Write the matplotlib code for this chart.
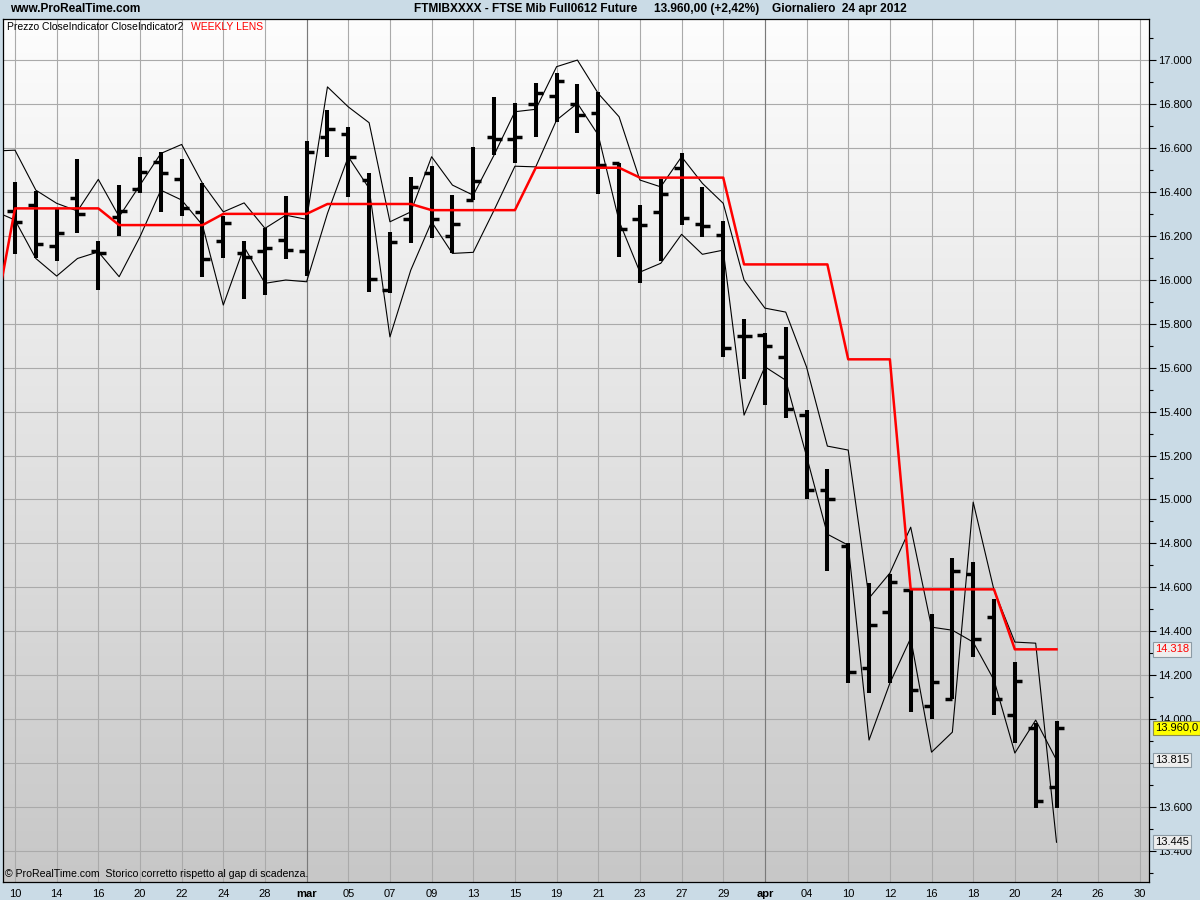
import matplotlib.pyplot as plt
import numpy as np
from matplotlib.colors import LinearSegmentedColormap

plt.rcParams['font.family'] = ['Liberation Sans', 'DejaVu Sans']

# FTSE Mib future, giornaliero 10 feb - 24 apr 2012 (barre 0..50), asse fino al 30 apr
x_labels = ['10', '14', '16', '20', '22', '24', '28', 'mar', '05', '07', '09', '13', '15', '19',
            '21', '23', '27', '29', 'apr', '04', '10', '12', '16', '18', '20', '24', '26', '30']

bar_open = [16313, 16340, 16156, 16370, 16131, 16287, 16411, 16534, 16461, 16308,
            16177, 16120, 16131, 16181, 16131, 16651, 16663, 16454, 15953, 16275,
            16484, 16200, 16363, 16651, 16640, 16798, 16836, 16798, 16757, 16533,
            16275, 16309, 16507, 16253, 16203, 15744, 15748, 15647, 15384, 15042,
            14788, 14231, 14490, 14587, 14059, 14094, 14663, 14465, 14018, 13958,
            13692]
bar_high = [16446, 16404, 16320, 16548, 16176, 16431, 16560, 16580, 16548, 16439,
            16290, 16176, 16234, 16381, 16631, 16772, 16694, 16487, 16216, 16466,
            16517, 16385, 16603, 16830, 16803, 16894, 16939, 16889, 16856, 16533,
            16340, 16457, 16578, 16421, 16267, 15820, 15759, 15783, 15407, 15137,
            14800, 14618, 14663, 14587, 14481, 14732, 14714, 14546, 14261, 13981,
            13993]
bar_low = [16117, 16097, 16086, 16211, 15953, 16200, 16393, 16309, 16290, 16011,
           16097, 15911, 15930, 16093, 16017, 16560, 16378, 15945, 15938, 16168,
           16191, 16120, 16363, 16568, 16530, 16651, 16719, 16669, 16389, 16105,
           15984, 16086, 16249, 16196, 15647, 15549, 15430, 15369, 15000, 14675,
           14163, 14117, 14163, 14033, 14003, 14094, 14284, 14018, 13890, 13594,
           13594]
bar_close = [16264, 16162, 16212, 16298, 16120, 16313, 16489, 16484, 16329, 16094,
             16259, 16102, 16143, 16135, 16581, 16685, 16557, 16002, 16173, 16421,
             16275, 16252, 16449, 16640, 16648, 16848, 16904, 16750, 16522, 16229,
             16248, 16390, 16279, 16244, 15688, 15744, 15698, 15410, 15042, 15002,
             14216, 14427, 14625, 14135, 14170, 14675, 14364, 14094, 14173, 13627,
             13960]

# indicatori dalla barra -1 alla 50
close_ind = [16586, 16590, 16408, 16348, 16313, 16457, 16287, 16431, 16575, 16616,
             16439, 16309, 16350, 16234, 16294, 16275, 16878, 16787, 16715, 16264,
             16309, 16560, 16431, 16385, 16568, 16765, 16776, 16970, 17000, 16848,
             16742, 16454, 16423, 16560, 16439, 16348, 15999, 15871, 15853, 15603,
             15243, 15225, 14551, 14665, 14874, 14419, 14405, 14351, 14178, 13846,
             13996, 13814]
close_ind2 = [16313, 16272, 16097, 16017, 16097, 16127, 16014, 16196, 16408, 16363,
              16249, 15885, 16150, 15984, 15999, 15991, 16302, 16560, 16416, 15740,
              16044, 16264, 16120, 16125, 16317, 16517, 16514, 16727, 16803, 16659,
              16267, 16035, 16075, 16207, 16116, 16135, 15384, 15604, 15543, 15197,
              14842, 14792, 13905, 14164, 14369, 13850, 13941, 14988, 14587, 14351,
              14346, 13440]
weekly_lens = [15812, 16325, 16325, 16325, 16325, 16325, 16249, 16249, 16249, 16249,
               16249, 16300, 16300, 16300, 16300, 16300, 16345, 16345, 16345, 16345,
               16345, 16317, 16317, 16317, 16317, 16317, 16510, 16510, 16510, 16510,
               16510, 16465, 16465, 16465, 16465, 16465, 16070, 16070, 16070, 16070,
               16070, 15638, 15638, 15638, 14591, 14591, 14591, 14591, 14591, 14318,
               14318, 14318]

n = len(bar_open)
idx = np.arange(n)
idx_ind = np.arange(-1, n)

W, H = 1200, 900


def px(x, y):
    return x / W, 1 - y / H


fig = plt.figure(figsize=(12, 9), dpi=100)
fig.patch.set_facecolor('#cadbe6')
ax = fig.add_axes([3 / W, 1 - 882 / H, (1149 - 3) / W, (882 - 19) / H])

# sfondo sfumato
cmap = LinearSegmentedColormap.from_list('bg', ['#fdfdfd', '#c7c7c7'])
grad = np.linspace(0, 1, 256).reshape(-1, 1)
ax.imshow(grad, cmap=cmap, aspect='auto', extent=[0, 1, 0, 1],
          transform=ax.transAxes, zorder=0)

ax.set_xlim(-0.576, 54.44)
ax.set_ylim(13259, 17187)

ax.set_xticks(np.arange(0, 55, 2))
ax.set_xticklabels(x_labels)
for lab in ax.get_xticklabels():
    if lab.get_text() in ('mar', 'apr'):
        lab.set_fontweight('bold')
ax.tick_params(axis='x', length=0, pad=5, labelsize=8)

yt = np.arange(13400, 17001, 200)
ax.set_yticks(yt)
ax.set_yticks(np.arange(13300, 17101, 100), minor=True)
ax.set_yticklabels([f'{v:,}'.replace(',', '.') for v in yt])
for lab, v in zip(ax.get_yticklabels(), yt):
    if v % 1000 == 0:
        lab.set_fontweight('bold')
ax.yaxis.tick_right()
ax.tick_params(axis='y', which='major', direction='out', length=5, width=0.8, pad=1.5, labelsize=8)
ax.tick_params(axis='y', which='minor', direction='out', length=3, width=0.8)

ax.set_axisbelow(True)
ax.grid(True, which='major', color='#aaaaaa', lw=0.8)
ax.axvline(14, color='#7a7a7a', lw=0.8, zorder=1)
ax.axvline(36, color='#7a7a7a', lw=0.8, zorder=1)

for s in ax.spines.values():
    s.set_color('black')
    s.set_linewidth(0.9)

# indicatori
ax.plot(idx_ind, close_ind, color='black', lw=0.8, zorder=3)
ax.plot(idx_ind, close_ind2, color='black', lw=0.8, zorder=3)

# barre OHLC
ax.vlines(idx, bar_low, bar_high, color='black', lw=2.9, zorder=4)
ax.hlines(bar_open, idx - 0.36, idx, color='black', lw=2.5, zorder=4)
ax.hlines(bar_close, idx, idx + 0.36, color='black', lw=2.5, zorder=4)

# weekly lens
ax.plot(idx_ind, weekly_lens, color='#ff0000', lw=1.8, zorder=5)

# etichette valori a destra
box = dict(boxstyle='square,pad=0.2', fc='#eeeeee', ec='#8c9ba5', lw=0.8)
ytr = ax.get_yaxis_transform()
ax.text(1.005, weekly_lens[-1], '14.318', color='red', fontsize=8, va='center',
        transform=ytr, clip_on=False, bbox=box, zorder=10)
ax.text(1.005, bar_close[-1], '13.960,0', color='black', fontsize=8, va='center',
        transform=ytr, clip_on=False, zorder=10,
        bbox=dict(boxstyle='square,pad=0.2', fc='#ffff00', ec='#8c8c50', lw=0.8))
ax.text(1.005, close_ind[-1], '13.815', color='black', fontsize=8, va='center',
        transform=ytr, clip_on=False, bbox=box, zorder=10)
ax.text(1.005, close_ind2[-1], '13.445', color='black', fontsize=8, va='center',
        transform=ytr, clip_on=False, bbox=box, zorder=10)

# testi
fig.text(*px(10, 9), 'www.ProRealTime.com', fontsize=8.6, fontweight='bold', va='center')
fig.text(*px(414, 9), 'FTMIBXXXX - FTSE Mib Full0612 Future', fontsize=8.6,
         fontweight='bold', va='center')
fig.text(*px(654, 9), '13.960,00 (+2,42%)', fontsize=8.6, fontweight='bold', va='center')
fig.text(*px(772, 9), 'Giornaliero  24 apr 2012', fontsize=8.6, fontweight='bold', va='center')

fig.text(*px(7, 27), 'Prezzo CloseIndicator CloseIndicator2', fontsize=7.5, va='center')
fig.text(*px(191, 27), 'WEEKLY LENS', fontsize=7.5, va='center', color='red')
fig.text(*px(5, 874), '\u00a9 ProRealTime.com  Storico corretto rispetto al gap di scadenza.',
         fontsize=7.6, va='center')

fig.savefig('out.png', dpi=100, facecolor=fig.get_facecolor())
